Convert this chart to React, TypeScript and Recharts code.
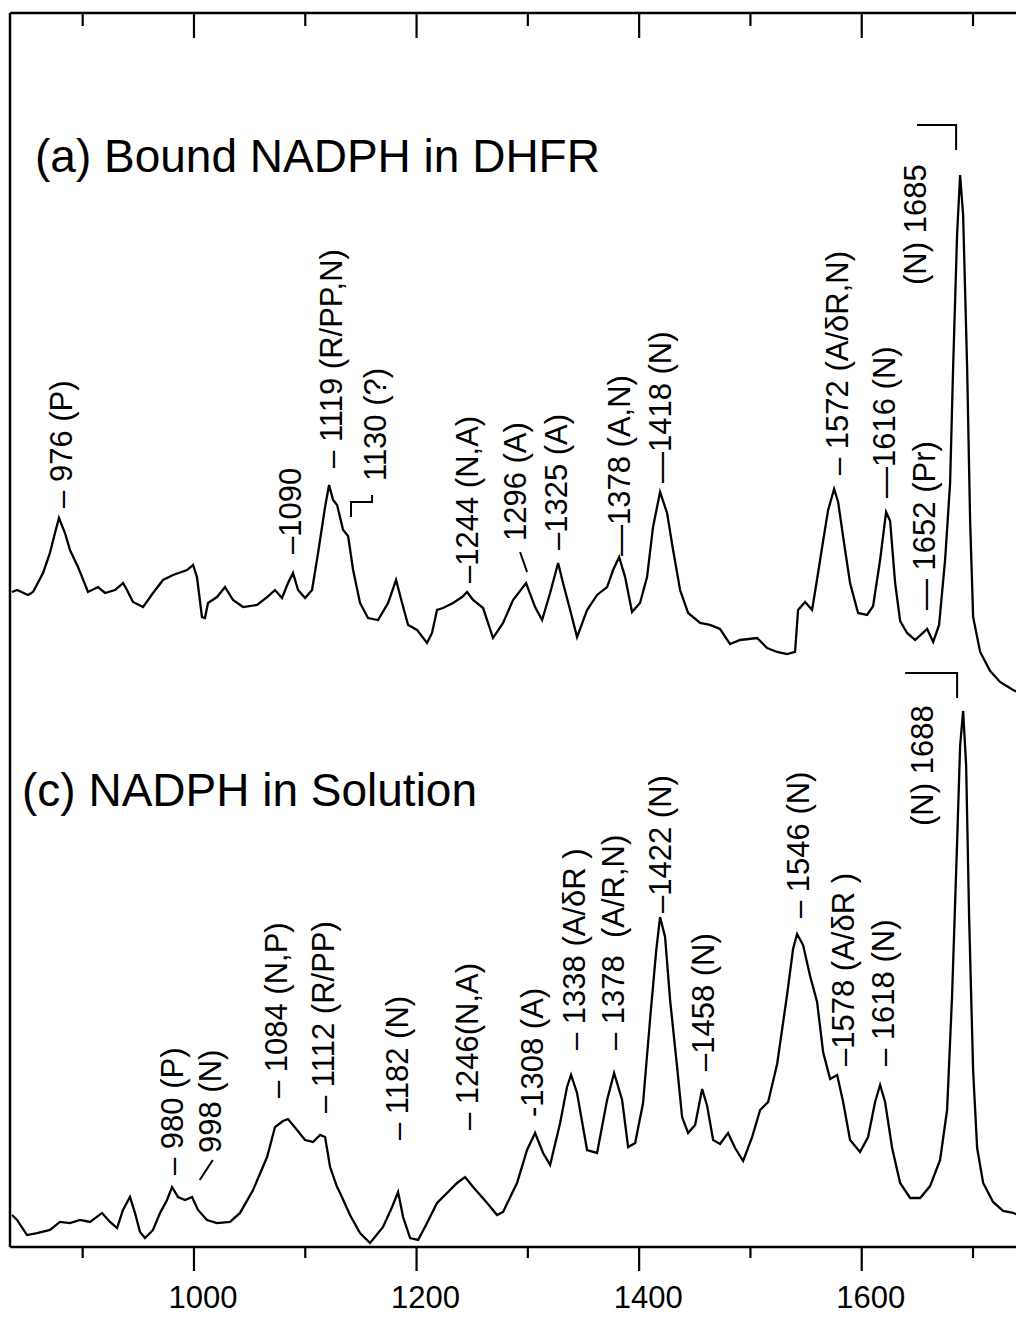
import React from 'react';
import { LineChart, Line, XAxis, YAxis, ReferenceDot } from 'recharts';

const FONT = '"Liberation Sans", Arial, Helvetica, sans-serif';

// Axis settings (wavenumber, cm-1)
const X_DOMAIN: [number, number] = [834.7, 1745.8];
const Y_DOMAIN: [number, number] = [0, 100];
const TICKS = [900, 1000, 1100, 1200, 1300, 1400, 1500, 1600, 1700];
const MAJOR_TICKS = [1000, 1200, 1400, 1600];

// (a) Bound NADPH in DHFR (offset trace)
const wnA = [836.5, 841.0, 850.9, 855.4, 864.4, 870.6, 875.1, 878.7, 884.1, 888.6,
  895.8, 904.8, 913.8, 920.1, 929.1, 936.3, 939.8, 945.2, 954.2, 963.2,
  972.2, 981.2, 993.8, 999.2, 1002.7, 1007.2, 1009.9, 1012.6, 1020.7, 1027.9,
  1035.1, 1044.1, 1056.7, 1065.7, 1072.8, 1079.1, 1084.5, 1089.0, 1093.5, 1099.8,
  1106.1, 1111.5, 1117.8, 1121.4, 1125.0, 1128.6, 1134.0, 1138.5, 1143.0, 1149.2,
  1156.4, 1165.4, 1174.4, 1181.6, 1187.0, 1192.4, 1200.5, 1209.4, 1213.9, 1218.4,
  1223.8, 1232.8, 1240.9, 1245.4, 1250.8, 1259.8, 1268.7, 1277.7, 1286.7, 1298.4,
  1306.5, 1312.8, 1320.0, 1327.2, 1331.6, 1338.0, 1344.2, 1353.2, 1362.2, 1371.2,
  1376.6, 1382.0, 1387.4, 1393.6, 1400.8, 1407.1, 1412.5, 1418.8, 1425.1, 1430.5,
  1436.8, 1444.0, 1454.8, 1463.7, 1472.7, 1481.7, 1490.7, 1506.0, 1515.0, 1524.0,
  1532.9, 1540.1, 1542.8, 1549.1, 1555.4, 1559.9, 1565.3, 1569.8, 1575.2, 1578.8,
  1583.3, 1589.5, 1596.7, 1604.8, 1610.2, 1616.5, 1621.9, 1625.5, 1630.0, 1634.5,
  1640.8, 1648.0, 1658.8, 1664.2, 1669.5, 1674.9, 1679.4, 1682.1, 1685.7, 1688.4,
  1691.1, 1694.7, 1697.4, 1700.1, 1706.4, 1715.4, 1724.3, 1736.0, 1745.0];
const intA = [53.08, 53.24, 52.84, 53.08, 54.62, 56.24, 57.86, 59.08, 57.86, 56.48,
  55.11, 53.08, 53.48, 53.0, 53.24, 53.81, 53.24, 52.27, 51.86, 53.0,
  54.05, 54.46, 54.86, 55.27, 54.29, 51.05, 50.97, 52.19, 52.67, 53.48,
  52.43, 51.86, 52.03, 52.67, 53.24, 52.59, 53.81, 54.62, 53.24, 52.59,
  53.24, 56.24, 59.97, 61.75, 60.54, 60.13, 58.10, 57.62, 54.86, 52.19,
  50.97, 50.81, 52.19, 54.05, 52.19, 50.41, 50.0, 48.95, 49.76, 51.62,
  51.78, 52.19, 52.67, 53.08, 52.43, 51.78, 49.35, 50.57, 52.43, 53.81,
  51.86, 50.81, 53.0, 55.43, 53.81, 51.62, 49.43, 51.62, 52.84, 53.48,
  54.86, 55.92, 54.29, 51.46, 52.19, 54.29, 58.35, 61.18, 59.48, 56.48,
  53.24, 51.38, 50.57, 50.41, 50.08, 48.86, 49.19, 49.35, 48.54, 48.22,
  48.05, 48.22, 51.62, 52.27, 51.62, 54.13, 57.21, 59.72, 61.43, 60.37,
  57.54, 53.81, 51.38, 51.22, 51.94, 55.67, 59.56, 58.83, 53.81, 50.73,
  49.76, 49.19, 50.08, 49.03, 50.41, 55.67, 61.91, 71.23, 82.09, 86.87,
  83.63, 71.23, 58.83, 51.05, 48.22, 46.68, 45.79, 45.14, 44.81];

// (c) NADPH in Solution
const wnC = [836.5, 841.0, 850.0, 859.0, 870.6, 879.6, 888.6, 897.6, 906.6, 917.4,
  924.6, 930.9, 936.2, 942.5, 947.0, 951.5, 956.0, 963.2, 969.5, 975.8,
  980.3, 985.7, 992.0, 998.3, 1003.6, 1011.7, 1020.7, 1032.4, 1041.4, 1053.1,
  1065.7, 1072.8, 1080.0, 1084.5, 1092.6, 1099.8, 1107.0, 1113.3, 1117.8, 1122.3,
  1128.6, 1131.3, 1140.2, 1149.2, 1158.2, 1169.9, 1178.0, 1183.4, 1187.9, 1194.2,
  1201.4, 1209.4, 1218.4, 1227.4, 1236.4, 1243.6, 1250.8, 1263.4, 1272.3, 1277.7,
  1290.3, 1299.3, 1306.5, 1313.7, 1320.0, 1329.0, 1335.2, 1338.8, 1344.2, 1353.2,
  1362.2, 1371.2, 1377.5, 1384.7, 1390.1, 1396.4, 1403.5, 1410.0, 1415.4, 1418.8,
  1423.3, 1427.8, 1434.1, 1438.6, 1444.0, 1450.3, 1456.6, 1461.1, 1466.5, 1472.7,
  1479.9, 1486.2, 1493.4, 1501.5, 1508.7, 1515.9, 1524.0, 1532.9, 1538.3, 1541.9,
  1547.3, 1553.6, 1559.9, 1565.3, 1571.6, 1577.9, 1583.3, 1589.5, 1598.5, 1605.7,
  1612.0, 1616.5, 1621.0, 1627.3, 1634.5, 1643.5, 1652.5, 1661.4, 1670.4, 1676.7,
  1681.2, 1685.7, 1688.4, 1691.1, 1693.8, 1696.5, 1700.1, 1703.7, 1709.1, 1718.0,
  1727.0, 1736.0, 1745.0];
const intC = [2.59, 2.19, 0.97, 1.13, 1.38, 2.03, 1.94, 2.19, 2.03, 2.76,
  2.03, 1.54, 3.0, 4.05, 2.76, 1.22, 0.73, 1.38, 2.76, 3.81,
  4.86, 4.05, 3.81, 4.05, 3.0, 2.19, 1.94, 2.03, 2.76, 4.62,
  7.29, 9.72, 10.21, 10.37, 9.48, 8.67, 8.51, 9.08, 8.91, 6.48,
  4.86, 4.38, 2.59, 1.13, 0.32, 1.62, 3.24, 4.46, 2.43, 0.73,
  0.57, 1.94, 3.57, 4.38, 5.19, 5.67, 4.86, 3.57, 2.59, 2.84,
  5.19, 7.86, 9.24, 7.62, 6.65, 10.05, 12.97, 13.94, 12.48, 7.86,
  7.62, 11.91, 14.10, 11.91, 8.10, 8.43, 11.67, 18.64, 24.07, 26.74,
  25.12, 20.02, 14.59, 10.53, 9.24, 9.89, 12.80, 11.43, 8.67, 8.35,
  9.24, 8.02, 6.97, 8.91, 11.10, 11.75, 14.83, 20.42, 24.15, 25.36,
  24.47, 21.96, 19.85, 15.80, 13.61, 13.94, 11.75, 8.67, 7.70, 8.91,
  11.75, 13.13, 11.75, 8.02, 5.19, 3.97, 3.97, 4.94, 7.05, 11.10,
  20.42, 32.82, 40.60, 43.44, 39.06, 26.66, 14.26, 8.02, 5.19, 3.65,
  2.92, 2.76, 2.43];

// Peak annotations: wavenumber, intensity where the label starts, text
const labelsA = [
  { wn: 880.5, v: 59.89, text: '– 976 (P)' },
  { wn: 1086.3, v: 56.16, text: '–1090' },
  { wn: 1123.2, v: 63.13, text: '– 1119 (R/PP,N)' },
  { wn: 1162.7, v: 62.07, text: '1130 (?)' },
  { wn: 1245.4, v: 53.81, text: '–1244 (N,A)' },
  { wn: 1288.5, v: 57.21, text: '1296 (A)' },
  { wn: 1325.3, v: 56.48, text: '–1325 (A)' },
  { wn: 1382.0, v: 56.0, text: '—1378 (A,N)' },
  { wn: 1418.8, v: 61.91, text: '—1418 (N)' },
  { wn: 1577.9, v: 62.56, text: '– 1572 (A/δR,N)' },
  { wn: 1620.1, v: 60.7, text: '—1616 (N)' },
  { wn: 1656.1, v: 51.62, text: '— 1652 (Pr)' },
  { wn: 1648.0, v: 77.96, text: '(N) 1685' },
];
const labelsC = [
  { wn: 980.3, v: 5.83, text: '– 980 (P)' },
  { wn: 1014.4, v: 7.62, text: '998 (N)' },
  { wn: 1073.7, v: 12.07, text: '– 1084 (N,P)' },
  { wn: 1116.0, v: 10.86, text: '– 1112 (R/PP)' },
  { wn: 1182.5, v: 8.67, text: '– 1182 (N)' },
  { wn: 1245.4, v: 9.48, text: '– 1246(N,A)' },
  { wn: 1303.8, v: 10.53, text: '-1308 (A)' },
  { wn: 1341.5, v: 15.96, text: '– 1338 (A/δR )' },
  { wn: 1376.6, v: 15.96, text: '– 1378  (A/R,N)' },
  { wn: 1418.8, v: 27.07, text: '–1422 (N)' },
  { wn: 1457.4, v: 14.26, text: '–1458 (N)' },
  { wn: 1542.8, v: 26.66, text: '– 1546 (N)' },
  { wn: 1583.3, v: 14.67, text: '–1578 (A/δR )' },
  { wn: 1619.2, v: 14.67, text: '– 1618 (N)' },
  { wn: 1654.3, v: 34.12, text: '(N) 1688' },
];

// Connector marks (brackets and slanted dashes)
const bracketA = [{ wn: 1649.7, v: 90.92 }, { wn: 1684.8, v: 90.92 }, { wn: 1684.8, v: 88.9 }];
const bracketC = [{ wn: 1639.0, v: 46.51 }, { wn: 1685.7, v: 46.51 }, { wn: 1685.7, v: 44.49 }];
const bracket1130 = [{ wn: 1141.1, v: 59.16 }, { wn: 1141.1, v: 60.37 }, { wn: 1160.0, v: 60.37 }, { wn: 1160.0, v: 60.94 }];
const dash1296 = [{ wn: 1293.0, v: 56.32 }, { wn: 1299.3, v: 54.7 }];
const dash998 = [{ wn: 1016.9, v: 7.05 }, { wn: 1005.2, v: 5.43 }];

const dataA = wnA.map((wn, i) => ({ wn, v: intA[i] }));
const dataC = wnC.map((wn, i) => ({ wn, v: intC[i] }));

const BottomTick = (props: any) => {
  const { x, y, payload } = props;
  const major = MAJOR_TICKS.includes(payload.value);
  return (
    <g>
      <line x1={x} y1={y} x2={x} y2={y + (major ? 24 : 11)} stroke="#000" strokeWidth={2.2} />
      {major && (
        <text x={x + 9} y={y + 61} textAnchor="middle" fontSize={31} fontFamily={FONT} fill="#000">
          {payload.value}
        </text>
      )}
    </g>
  );
};

const TopTick = (props: any) => {
  const { x, y, payload } = props;
  const major = MAJOR_TICKS.includes(payload.value);
  return <line x1={x} y1={y} x2={x} y2={y + (major ? 25 : 13)} stroke="#000" strokeWidth={2.2} />;
};

const RotLabel = ({ cx, cy, text }: { cx: number; cy: number; text: string }) => (
  <text
    transform={`translate(${cx},${cy}) rotate(-90)`}
    x={0}
    y={0}
    dy="0.36em"
    fontSize={31}
    fontFamily={FONT}
    fill="#000"
    textAnchor="start"
    style={{ whiteSpace: 'pre' }}
  >
    {text}
  </text>
);

const markLine = (data: { wn: number; v: number }[], key: string, axis: string) => (
  <Line
    key={key}
    xAxisId={axis}
    data={data}
    dataKey="v"
    stroke="#000"
    strokeWidth={2}
    dot={false}
    isAnimationActive={false}
    type="linear"
  />
);

export default function App() {
  return (
    <div style={{ position: 'relative', width: 1016, height: 1300 }}>
      <LineChart width={1016} height={1310} margin={{ top: 4, right: 0, left: 1, bottom: 0 }}>
        <XAxis
          xAxisId="top"
          orientation="top"
          type="number"
          dataKey="wn"
          domain={X_DOMAIN}
          ticks={TICKS}
          interval={0}
          height={1}
          tickSize={0}
          tickMargin={0}
          tickLine={false}
          tick={<TopTick />}
          axisLine={{ stroke: '#000', strokeWidth: 2.5 }}
          allowDataOverflow
        />
        <XAxis
          xAxisId="bottom"
          orientation="bottom"
          type="number"
          dataKey="wn"
          domain={X_DOMAIN}
          ticks={TICKS}
          interval={0}
          height={71}
          tickSize={0}
          tickMargin={0}
          tickLine={false}
          tick={<BottomTick />}
          axisLine={{ stroke: '#000', strokeWidth: 2.5 }}
          allowDataOverflow
        />
        <YAxis
          type="number"
          domain={Y_DOMAIN}
          width={1}
          tick={false}
          tickLine={false}
          axisLine={{ stroke: '#000', strokeWidth: 2.5 }}
          allowDataOverflow
        />
        <Line
          xAxisId="top"
          data={dataA}
          dataKey="v"
          stroke="#000"
          strokeWidth={2.3}
          dot={false}
          isAnimationActive={false}
          type="linear"
        />
        <Line
          xAxisId="bottom"
          data={dataC}
          dataKey="v"
          stroke="#000"
          strokeWidth={2.3}
          dot={false}
          isAnimationActive={false}
          type="linear"
        />
        {markLine(bracketA, 'bA', 'top')}
        {markLine(bracketC, 'bC', 'bottom')}
        {markLine(bracket1130, 'b1130', 'top')}
        {markLine(dash1296, 'd1296', 'top')}
        {markLine(dash998, 'd998', 'bottom')}
        {labelsA.map((l) => (
          <ReferenceDot
            key={'a' + l.text}
            xAxisId="top"
            x={l.wn}
            y={l.v}
            r={0}
            ifOverflow="visible"
            shape={(p: any) => <RotLabel cx={p.cx} cy={p.cy} text={l.text} />}
          />
        ))}
        {labelsC.map((l) => (
          <ReferenceDot
            key={'c' + l.text}
            xAxisId="bottom"
            x={l.wn}
            y={l.v}
            r={0}
            ifOverflow="visible"
            shape={(p: any) => <RotLabel cx={p.cx} cy={p.cy} text={l.text} />}
          />
        ))}
      </LineChart>
      <svg
        width={1016}
        height={1300}
        style={{ position: 'absolute', left: 0, top: 0, pointerEvents: 'none' }}
      >
        <text x={27} y={164} fontSize={46} fontFamily={FONT} fill="#000">
          (a) Bound NADPH in DHFR
        </text>
        <text x={14} y={798} fontSize={46} fontFamily={FONT} fill="#000">
          (c) NADPH in Solution
        </text>
      </svg>
    </div>
  );
}
